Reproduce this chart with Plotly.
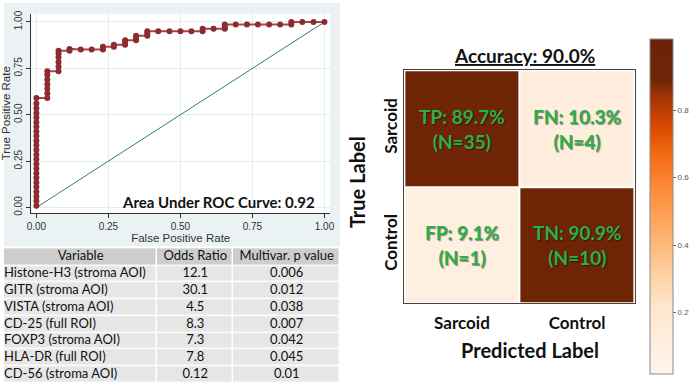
import plotly.graph_objects as go

W, H = 700, 388

# ---------------- ROC data ----------------
roc_fpr = [
    0, 0, 0, 0, 0, 0, 0, 0, 0, 0, 0, 0,
    0, 0, 0, 0, 0, 0, 0, 0, 0, 0, 0, 0,
    0.038, 0.038, 0.038, 0.038, 0.038, 0.038, 0.038,
    0.077, 0.077, 0.077, 0.077, 0.077, 0.077,
    0.115, 0.115,
    0.154, 0.192,
    0.231, 0.231,
    0.269, 0.269,
    0.308, 0.308, 0.308,
    0.346, 0.346, 0.346,
    0.385, 0.385, 0.385,
    0.423, 0.462, 0.500, 0.538,
    0.577, 0.577,
    0.615,
    0.654, 0.654, 0.654,
    0.692, 0.731, 0.769, 0.808, 0.846,
    0.885, 0.885,
    0.923, 0.962, 1.000,
]
roc_tpr = [
    0.010, 0.035, 0.060, 0.085, 0.110, 0.135, 0.160, 0.185, 0.210, 0.235, 0.260, 0.285,
    0.310, 0.335, 0.360, 0.385, 0.410, 0.435, 0.460, 0.485, 0.510, 0.535, 0.560, 0.590,
    0.590, 0.615, 0.640, 0.665, 0.690, 0.715, 0.735,
    0.735, 0.760, 0.785, 0.810, 0.830, 0.845,
    0.845, 0.855,
    0.852, 0.852,
    0.852, 0.866,
    0.866, 0.878,
    0.878, 0.890, 0.902,
    0.902, 0.914, 0.926,
    0.926, 0.938, 0.950,
    0.950, 0.950, 0.950, 0.950,
    0.950, 0.963,
    0.964,
    0.964, 0.975, 0.986,
    0.986, 0.986, 0.986, 0.986, 0.986,
    0.986, 1.000,
    1.000, 1.000, 1.000,
]
ref_x = [0, 1]
ref_y = [0, 1]
roc_ticks = [0, 0.25, 0.5, 0.75, 1.0]
auc = 0.92

# ---------------- Table data ----------------
tbl_header = ["Variable", "Odds Ratio", "Multivar. p value"]
variables = ["Histone-H3 (stroma AOI)", "GITR (stroma AOI)", "VISTA (stroma AOI)",
             "CD-25 (full ROI)", "FOXP3 (stroma AOI)", "HLA-DR (full ROI)",
             "CD-56 (stroma AOI)"]
odds_ratios = ["12.1", "30.1", "4.5", "8.3", "7.3", "7.8", "0.12"]
p_values = ["0.006", "0.012", "0.038", "0.007", "0.042", "0.045", "0.01"]

# ---------------- Confusion matrix data ----------------
cm_labels = ["Sarcoid", "Control"]
cm_rates = [[0.897, 0.103], [0.091, 0.909]]
cm_counts = [[35, 4], [1, 10]]
cm_codes = [["TP", "FN"], ["FP", "TN"]]
accuracy = 90.0
cbar_ticks = [0.2, 0.4, 0.6, 0.8]


def px_x(p):
    return p / W


def px_y(p):
    return 1 - p / H


fig = go.Figure()

# ROC diagonal and curve
fig.add_trace(go.Scatter(x=ref_x, y=ref_y, mode="lines",
                         line=dict(color="#2e7f72", width=1),
                         xaxis="x", yaxis="y", showlegend=False, hoverinfo="skip"))
fig.add_trace(go.Scatter(x=roc_fpr, y=roc_tpr, mode="lines+markers",
                         line=dict(color="#a4474c", width=2),
                         marker=dict(color="#8e2b30", size=6),
                         xaxis="x", yaxis="y", showlegend=False))

# Confusion matrix heatmap
cscale = [
    [0.0, "#fff5eb"], [0.2, "#fee6ce"], [0.3, "#fdd0a2"], [0.42, "#fdae6b"],
    [0.55, "#fd8d3c"], [0.66, "#f16913"], [0.74, "#d94801"], [0.82, "#a63603"],
    [0.88, "#6f2506"], [1.0, "#6a2208"],
]
fig.add_trace(go.Heatmap(
    z=cm_rates, x=cm_labels, y=cm_labels, xaxis="x2", yaxis="y2",
    colorscale=cscale, zmin=0.016, zmax=1.01, xgap=2, ygap=2,
    colorbar=dict(x=px_x(653), xanchor="left", y=px_y(37), yanchor="top",
                  len=335, lenmode="pixels", thickness=23, xpad=0, ypad=0,
                  outlinecolor="#8a8a8a", outlinewidth=1,
                  tickvals=cbar_ticks, ticks="outside", ticklen=3,
                  tickcolor="#666", tickfont=dict(size=8, color="#555",
                                                  family="Liberation Sans")),
    showscale=True, hoverinfo="z"))

# Table (cell fills as a heatmap grid, texts as a text trace) on axes x3/y3
col_widths = [155, 77, 108]
hdr_h, row_h = 18, 17
col_edges = [0]
for w in col_widths:
    col_edges.append(col_edges[-1] + w)
row_edges = [0, hdr_h]
for _ in variables:
    row_edges.append(row_edges[-1] + row_h)
tbl_kind = [[1] * len(tbl_header)] + [[0] * len(tbl_header) for _ in variables]
fig.add_trace(go.Heatmap(
    z=tbl_kind, x=col_edges, y=row_edges, xaxis="x3", yaxis="y3",
    colorscale=[[0, "#e6e6e6"], [1, "#cdcdcd"]], zmin=0, zmax=1,
    xgap=1.5, ygap=1.5, showscale=False, hoverinfo="skip"))

col_centers = [(col_edges[k] + col_edges[k + 1]) / 2 for k in range(len(col_widths))]
row_centers = [(row_edges[k] + row_edges[k + 1]) / 2 for k in range(len(row_edges) - 1)]
tbl_font = dict(family="Lato", size=13, color="#111")
fig.add_trace(go.Scatter(
    x=col_centers, y=[row_centers[0]] * len(tbl_header), text=tbl_header,
    mode="text", textposition="middle center", textfont=tbl_font,
    xaxis="x3", yaxis="y3", showlegend=False, hoverinfo="skip"))
body_x, body_y, body_t, body_pos = [], [], [], []
for r, vals in enumerate(zip(variables, odds_ratios, p_values)):
    for c, v in enumerate(vals):
        body_x.append(col_edges[0] if c == 0 else col_centers[c])
        body_y.append(row_centers[r + 1])
        body_t.append(v)
        body_pos.append("middle right" if c == 0 else "middle center")
fig.add_trace(go.Scatter(
    x=body_x, y=body_y, text=body_t, mode="text", textposition=body_pos,
    textfont=tbl_font, xaxis="x3", yaxis="y3", showlegend=False, hoverinfo="skip",
    cliponaxis=False))

annotations = []


def ann(text, x, y, size, **kw):
    d = dict(text=text, x=px_x(x), y=px_y(y), xref="paper", yref="paper",
             xanchor="center", yanchor="middle", showarrow=False,
             font=dict(family="Lato", size=size, color="#111"))
    d.update(kw)
    return d


annotations.append(ann(f"<b>Area Under ROC Curve: {auc:.2f}</b>", 217, 202, 15))
annotations.append(ann(f"<b><u>Accuracy: {accuracy:.1f}%</u></b>", 527, 53, 19))
annotations.append(ann("<b>True Label</b>", 357, 182, 20, textangle=-90))
annotations.append(ann("<b>Predicted Label</b>", 532, 352, 20))
for i, row_lab in enumerate(cm_labels):
    for j, col_lab in enumerate(cm_labels):
        annotations.append(dict(
            text=f"<b>{cm_codes[i][j]}: {cm_rates[i][j]*100:.1f}%<br>(N={cm_counts[i][j]})</b>",
            x=col_lab, y=row_lab, xref="x2", yref="y2", showarrow=False,
            xanchor="center", yanchor="middle",
            font=dict(family="Lato", size=19, color="#27b04b",
                      shadow="1px 1px 1px rgba(0,0,0,0.45)")))

shapes = [
    dict(type="rect", xref="paper", yref="paper", x0=0, x1=px_x(340),
         y0=px_y(247), y1=1, fillcolor="#eaf2f3", line=dict(width=0), layer="below"),
    dict(type="rect", xref="paper", yref="paper", x0=px_x(27.5), x1=px_x(330),
         y0=px_y(213), y1=px_y(11), fillcolor="white", line=dict(width=0), layer="below"),
]

axis_font = dict(family="Liberation Sans", size=10, color="#333")
hidden = dict(visible=False, showgrid=False, zeroline=False, fixedrange=True)
fig.update_layout(
    width=W, height=H, margin=dict(l=0, r=0, t=0, b=0),
    paper_bgcolor="white", plot_bgcolor="white", showlegend=False,
    xaxis=dict(domain=[px_x(27.5), px_x(330)], range=[-0.018, 1.02], anchor="y",
               tickvals=roc_ticks, tickformat=".2f", ticks="outside", ticklen=4,
               tickcolor="#333", showline=True, linecolor="#333", linewidth=1,
               showgrid=True, gridcolor="#e3ecee", zeroline=False, tickfont=axis_font,
               title=dict(text="False Positive Rate", standoff=2,
                          font=dict(family="Liberation Sans", size=11.5, color="#333"))),
    yaxis=dict(domain=[px_y(213), px_y(11)], range=[-0.028, 1.044], anchor="x",
               tickvals=roc_ticks, tickformat=".2f", ticks="outside", ticklen=4,
               tickangle=-90, tickcolor="#333", showline=True, linecolor="#333",
               linewidth=1, showgrid=True, gridcolor="#e3ecee", zeroline=False,
               tickfont=axis_font,
               title=dict(text="True Positive Rate", standoff=2,
                          font=dict(family="Liberation Sans", size=11.5, color="#333"))),
    xaxis2=dict(domain=[px_x(405), px_x(638)], anchor="y2", showline=True, mirror=True,
                linecolor="#444", linewidth=1, ticks="", showgrid=False, zeroline=False,
                ticklabelstandoff=4,
                tickfont=dict(family="Lato", size=17, color="#111", weight="bold")),
    yaxis2=dict(domain=[px_y(305), px_y(68.3)], anchor="x2", autorange="reversed",
                showline=True, mirror=True, linecolor="#444", linewidth=1, ticks="",
                tickangle=-90, showgrid=False, zeroline=False,
                tickfont=dict(family="Lato", size=17, color="#111", weight="bold")),
    xaxis3=dict(domain=[0, px_x(340)], range=[0, 340], anchor="y3", **hidden),
    yaxis3=dict(domain=[0, px_y(249)], range=[H - 249, 0], anchor="x3", **hidden),
    annotations=annotations, shapes=shapes,
)

fig.write_html("out.html")
